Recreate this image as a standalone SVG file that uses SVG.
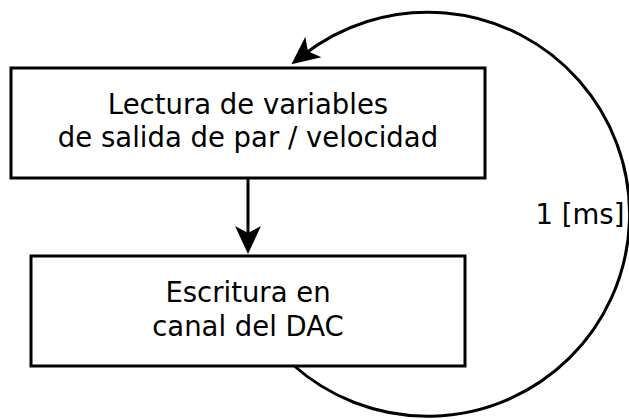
<svg xmlns="http://www.w3.org/2000/svg" width="629" height="419" viewBox="0 0 629 419">
<style>
.box{fill:#fff;stroke:#000;stroke-width:3}
.t{font-family:"DejaVu Sans",sans-serif;font-size:27.5px;fill:#000;text-anchor:middle}
.c{fill:none;stroke:#000;stroke-width:3}
</style>
<defs>
<marker id="ah" markerUnits="userSpaceOnUse" markerWidth="40" markerHeight="40" viewBox="-20 -20 40 40" refX="0" refY="0" orient="auto">
<path d="M14,0 L-14,-13 L-7,0 L-14,13 Z" fill="#000"/>
</marker>
</defs>
<rect width="629" height="419" fill="#fff"/>
<g id="connectors">
<path class="c" d="M248,178 L248,240" marker-end="url(#ah)" id="arrow-down"/>
<path class="c" d="M292,364 A202,202 0 1 0 302.4,55.7" marker-end="url(#ah)" id="loop"/>
<text class="t" x="580" y="224">1 [ms]</text>
</g>
<g id="node1">
<rect class="box" x="11" y="68" width="474" height="110"/>
<text class="t" x="248" y="114">Lectura de variables</text>
<text class="t" x="248" y="147">de salida de par / velocidad</text>
</g>
<g id="node2">
<rect class="box" x="31" y="256" width="434" height="110"/>
<text class="t" x="248" y="302">Escritura en</text>
<text class="t" x="248" y="336">canal del DAC</text>
</g>
</svg>
